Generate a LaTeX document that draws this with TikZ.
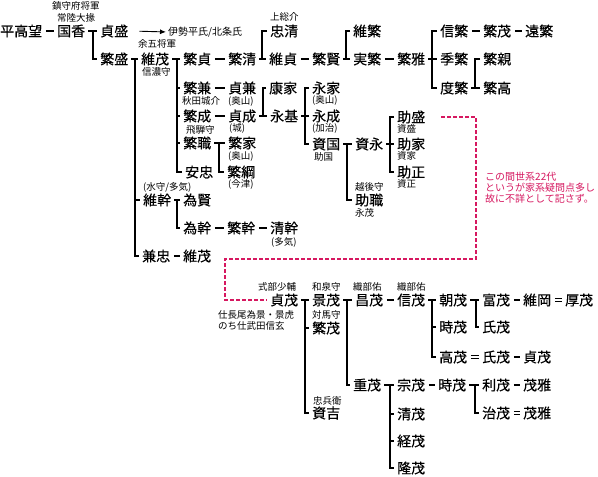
\documentclass[tikz,border=0pt]{standalone}
\usepackage{fontspec}
\setmainfont{Noto Sans CJK JP}
\newfontfamily\nmfont{Noto Sans CJK JP}[FakeBold=0.35]
\usetikzlibrary{arrows.meta}
\definecolor{mgc}{RGB}{214,24,96}
\begin{document}
\begin{tikzpicture}[x=1pt,y=-1pt,
  nm/.style={anchor=west, inner xsep=3pt, inner ysep=0pt, xshift=-3pt, font=\nmfont\fontsize{14}{16}\selectfont},
  lb/.style={anchor=west, inner sep=0pt, font=\fontsize{9.5}{11}\selectfont},
  lbc/.style={anchor=center, inner sep=0pt, font=\fontsize{9.5}{11}\selectfont},
  mt/.style={anchor=west, inner sep=0pt, text=mgc, font=\fontsize{10}{12}\selectfont},
  ln/.style={line width=2.1pt},
  dl/.style={line width=2.1pt, shorten <=0.5pt, shorten >=0.5pt},
  eq/.style={double, line width=0.9pt, double distance=1.8pt, shorten <=0.5pt, shorten >=0.5pt},
  mgl/.style={draw=mgc, line width=2pt, dash pattern=on 3.5pt off 2.5pt},
  arr/.style={line width=0.9pt, -{Latex[length=6pt,width=5pt]}}
]
\fill[white] (0,0) rectangle (598,477);
\useasboundingbox (0,0) rectangle (598,477);

% ---------- upper part ----------
\node[nm] (n01) at (0,31) {平高望};
\node[nm] (n02) at (57,31) {国香};
\node[nm] (n03) at (100,31) {貞盛};
\node[nm] (n04) at (100,59) {繁盛};
\node[nm] (n05) at (141,59) {維茂};
\node[nm] (n06) at (183,59) {繁貞};
\node[nm] (n07) at (228,59) {繁清};
\node[nm] (n08) at (270,31) {忠清};
\node[nm] (n09) at (269,59) {維貞};
\node[nm] (n10) at (312,59) {繁賢};
\node[nm] (n11) at (353,31) {維繁};
\node[nm] (n12) at (353,59) {実繁};
\node[nm] (n13) at (397,59) {繁雅};
\node[nm] (n14) at (440,31) {信繁};
\node[nm] (n15) at (440,59) {季繁};
\node[nm] (n16) at (440,88) {度繁};
\node[nm] (n17) at (483,31) {繁茂};
\node[nm] (n18) at (525,31) {遠繁};
\node[nm] (n19) at (483,59) {繁親};
\node[nm] (n20) at (483,88) {繁高};
\node[nm] (n21) at (183,88) {繁兼};
\node[nm] (n22) at (228,88) {貞兼};
\node[nm] (n23) at (183,116) {繁成};
\node[nm] (n24) at (228,116) {貞成};
\node[nm] (n25) at (183,143) {繁職};
\node[nm] (n26) at (228,143) {繁家};
\node[nm] (n27) at (185,172) {安忠};
\node[nm] (n28) at (227,172) {繁綱};
\node[nm] (n29) at (269,88) {康家};
\node[nm] (n30) at (270,116) {永基};
\node[nm] (n31) at (312,88) {永家};
\node[nm] (n32) at (312,116) {永成};
\node[nm] (n33) at (312,144) {資国};
\node[nm] (n34) at (355,144) {資永};
\node[nm] (n35) at (355,200) {助職};
\node[nm] (n36) at (397,117) {助盛};
\node[nm] (n37) at (397,144) {助家};
\node[nm] (n38) at (397,172) {助正};
\node[nm] (n39) at (143,200) {維幹};
\node[nm] (n40) at (183,200) {為賢};
\node[nm] (n41) at (183,228) {為幹};
\node[nm] (n42) at (227,228) {繁幹};
\node[nm] (n43) at (270,228) {清幹};
\node[nm] (n44) at (142,256) {兼忠};
\node[nm] (n45) at (183,256) {維茂};

% labels upper
\node[lbc] (l01) at (76,6) {鎮守府将軍};
\node[lbc] (l02) at (76,18) {常陸大掾};
\node[lb, font=\fontsize{10}{12}\selectfont] (l03) at (168,32) {伊勢平氏/北条氏};
\node[lb] (l04) at (138,44) {余五将軍};
\node[lb] (l05) at (142,72) {信濃守};
\node[lb] (l06) at (270,17) {上総介};
\node[lb] (l07) at (182,101) {秋田城介};
\node[lb] (l08) at (228,101) {(奥山)};
\node[lb] (l09) at (229,128) {(城)};
\node[lb] (l10) at (186,130) {飛騨守};
\node[lb] (l11) at (228,156) {(奥山)};
\node[lb] (l12) at (228,184) {(今津)};
\node[lb] (l13) at (312,100) {(奥山)};
\node[lb] (l14) at (312,128) {(加治)};
\node[lb] (l15) at (314,157) {助国};
\node[lb] (l16) at (397,129) {資盛};
\node[lb] (l17) at (397,156) {資家};
\node[lb] (l18) at (397,184) {資正};
\node[lb] (l19) at (355,187) {越後守};
\node[lb] (l20) at (355,213) {永茂};
\node[lb] (l21) at (143,187) {(水守/多気)};
\node[lb] (l22) at (271,242) {(多気)};

% ---------- lower part ----------
\node[nm] (b01) at (270,300) {貞茂};
\node[nm] (b02) at (312,300) {景茂};
\node[nm] (b03) at (355,300) {昌茂};
\node[nm] (b04) at (397,300) {信茂};
\node[nm] (b05) at (312,328) {繁茂};
\node[nm] (b06) at (439,300) {朝茂};
\node[nm] (b07) at (482,300) {富茂};
\node[nm] (b08) at (523,300) {維岡};
\node[nm] (b09) at (565,300) {厚茂};
\node[nm] (b10) at (439,327) {時茂};
\node[nm] (b11) at (482,327) {氏茂};
\node[nm] (b12) at (439,357) {高茂};
\node[nm] (b13) at (482,357) {氏茂};
\node[nm] (b14) at (523,357) {貞茂};
\node[nm] (b15) at (353,385) {重茂};
\node[nm] (b16) at (397,385) {宗茂};
\node[nm] (b17) at (438,385) {時茂};
\node[nm] (b18) at (482,385) {利茂};
\node[nm] (b19) at (523,385) {茂雅};
\node[nm] (b20) at (482,413) {治茂};
\node[nm] (b21) at (523,413) {茂雅};
\node[nm] (b22) at (397,414) {清茂};
\node[nm] (b23) at (397,441) {経茂};
\node[nm] (b24) at (397,468) {隆茂};
\node[nm] (b25) at (312,413) {資吉};

\node[lb] (l23) at (258,287) {式部少輔};
\node[lb] (l24) at (312,287) {和泉守};
\node[lb] (l25) at (353,287) {織部佑};
\node[lb] (l26) at (397,287) {織部佑};
\node[lb] (l27) at (218,315) {仕長尾為景・景虎};
\node[lb] (l28) at (218,326) {のち仕武田信玄};
\node[lb] (l29) at (312,315) {対馬守};
\node[lb] (l30) at (313,401) {忠兵衛};

\node[mt] (m1) at (485,177) {この間世系22代};
\node[mt] (m2) at (485,188) {というが家系疑問点多し};
\node[mt] (m3) at (485,199) {故に不詳として記さず。};

% ---------- connectors upper ----------
\draw[dl] (n01.east) -- (n02.west);
\draw[ln] (n02.east) -- (n03.west);
\draw[ln] (93,31) |- (n04.west);
\draw[arr, shorten <=8pt, shorten >=2pt] (n03.east) -- (l03.west);

\draw[ln] (n04.east) -- (n05.west);
\draw[ln] (135,59) -- (135,256) -- (n44.west);
\draw[ln] (135,200) -- (n39.west);

\draw[ln] (n05.east) -- (n06.west);
\draw[ln] (177,59) -- (177,172) -- (n27.west);
\draw[ln] (177,88) -- (n21.west);
\draw[ln] (177,116) -- (n23.west);
\draw[ln] (177,143) -- (n25.west);

\draw[dl] (n06.east) -- (n07.west);
\draw[ln] (n07.east) -- (n09.west);
\draw[ln] (n08.west) -| (262,59);
\draw[dl] (n09.east) -- (n10.west);
\draw[ln] (n10.east) -- (n12.west);
\draw[ln] (n11.west) -| (346,59);
\draw[dl] (n12.east) -- (n13.west);
\draw[ln] (n13.east) -- (n15.west);
\draw[ln] (n14.west) -| (432,88) -- (n16.west);
\draw[dl] (n14.east) -- (n17.west);
\draw[dl] (n17.east) -- (n18.west);
\draw[ln] (n16.east) -- (n20.west);
\draw[ln] (n19.west) -| (475,88);

\draw[dl] (n21.east) -- (n22.west);
\draw[dl] (n23.east) -- (n24.west);
\draw[ln] (n24.east) -- (n30.west);
\draw[ln] (n29.west) -| (263,116);
\draw[ln] (n30.east) -- (n32.west);
\draw[ln] (n31.west) -| (305,144) -- (n33.west);
\draw[ln] (n25.east) -- (n26.west);
\draw[ln] (219,143) |- (n28.west);
\draw[ln] (n33.east) -- (n34.west);
\draw[ln] (347,144) |- (n35.west);
\draw[ln] (n34.east) -- (n37.west);
\draw[ln] (n36.west) -| (390,172) -- (n38.west);

\draw[ln] (n39.east) -- (n40.west);
\draw[ln] (177,200) |- (n41.west);
\draw[dl] (n41.east) -- (n42.west);
\draw[dl] (n42.east) -- (n43.west);
\draw[dl] (n44.east) -- (n45.west);

% ---------- dashed link ----------
\draw[mgl, shorten <=13pt] (n36.east) -- (476,117) -- (476,259) -- (225,259) -- (225,300) -- (b01.west);

% ---------- connectors lower ----------
\draw[ln] (b01.east) -- (b02.west);
\draw[ln] (305,300) -- (305,413) -- (b25.west);
\draw[ln] (305,328) -- (b05.west);
\draw[ln] (b02.east) -- (b03.west);
\draw[ln] (347,300) |- (b15.west);
\draw[dl] (b03.east) -- (b04.west);
\draw[ln] (b04.east) -- (b06.west);
\draw[ln] (432,300) -- (432,357) -- (b12.west);
\draw[ln] (432,327) -- (b10.west);
\draw[ln] (b06.east) -- (b07.west);
\draw[ln] (476,300) |- (b11.west);
\draw[dl] (b07.east) -- (b08.west);
\draw[eq] (b08.east) -- (b09.west);
\draw[eq] (b12.east) -- (b13.west);
\draw[dl] (b13.east) -- (b14.west);
\draw[ln] (b15.east) -- (b16.west);
\draw[ln] (390,385) -- (390,468) -- (b24.west);
\draw[ln] (390,414) -- (b22.west);
\draw[ln] (390,441) -- (b23.west);
\draw[dl] (b16.east) -- (b17.west);
\draw[ln] (b17.east) -- (b18.west);
\draw[ln] (475,385) |- (b20.west);
\draw[dl] (b18.east) -- (b19.west);
\draw[eq] (b20.east) -- (b21.west);
\end{tikzpicture}
\end{document}
